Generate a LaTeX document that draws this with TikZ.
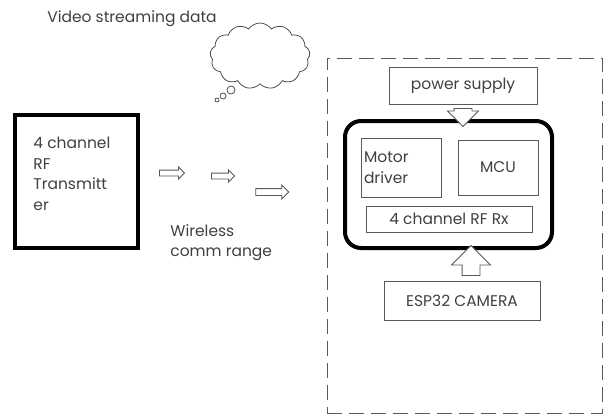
\documentclass[tikz,border=0pt]{standalone}
\usepackage{fontspec}
\setmainfont{Poppins}
\usetikzlibrary{shapes.symbols,shapes.arrows,positioning}

\begin{document}
\begin{tikzpicture}
[x=1pt, y=-1pt, line width=0.8pt,
txt/.style={text=black!75, font=\fontsize{15.5}{20.5}\selectfont},
box/.style={rectangle, draw=black!65, inner sep=2pt, txt},
thickbox/.style={rectangle, draw=black, line width=4pt},
blockarrow/.style={single arrow, draw=black!65, inner xsep=0pt, minimum width=0pt, fill=white}]

\useasboundingbox (0,0) rectangle (606,415);

% text above the cloud
\node[txt] (video) at (132,19) {Video streaming data};
\node[cloud, draw=black!70, cloud puffs=13, cloud puff arc=110, aspect=1.5,
  minimum width=100pt, minimum height=66pt] (cloud) at (260,56) {};
\node[circle, draw=black!70, minimum size=8pt, inner sep=0pt] (bub1) at (231,90) {};
\node[circle, draw=black!70, minimum size=6pt, inner sep=0pt] (bub2) at (223,96) {};
\node[circle, draw=black!70, minimum size=4pt, inner sep=0pt] (bub3) at (217,100) {};

% transmitter side
\node[thickbox, minimum width=123pt, minimum height=133pt] (tx) at (76.5,181.5) {};
\node[txt, align=left, anchor=north west, inner sep=0pt] (txlabel) at (33,137)
  {4 channel\\RF\\Transmitt\\er};

\node[blockarrow, minimum height=25pt, inner ysep=2.5pt, single arrow head extend=3pt] (wave1) at (170.5,173) {};
\node[blockarrow, minimum height=23pt, inner ysep=2.5pt, single arrow head extend=3pt] (wave2) at (221.5,176) {};
\node[blockarrow, minimum height=33pt, inner ysep=3pt, single arrow head extend=3.5pt] (wave3) at (270.5,192) {};
\node[txt, align=left, anchor=north west, inner sep=0pt] (range) at (170,224) {Wireless\\comm range};

% robot side
\node[rectangle, draw=black!65, dash pattern=on 15pt off 7pt, minimum width=275pt, minimum height=355pt] (frame) at (464.5,235.5) {};
\node[box, minimum width=148pt, minimum height=37pt] (power) at (463,85.5) {power supply};
\node[thickbox, rounded corners=16pt, minimum width=207pt, minimum height=127pt] (board) at (448.5,184.5) {};
\node[box, minimum width=80pt, minimum height=59pt, text width=74pt, align=left] (driver) at (401,167.5) {Motor\\driver};
\node[box, minimum width=80pt, minimum height=55pt] (mcu) at (498,167.5) {MCU};
\node[box, minimum width=166pt, minimum height=26pt] (rfrx) at (449,219) {4 channel RF Rx};
\node[box, minimum width=156pt, minimum height=39pt] (cam) at (462,300.5) {ESP32 CAMERA};

\node[blockarrow, rotate=-90, minimum height=18pt, inner ysep=8.5pt, single arrow head extend=6.5pt] (pwrarrow) at (463,113) {};
\node[blockarrow, rotate=90, minimum height=30pt, inner ysep=8.5pt, single arrow head extend=10.5pt] (camarrow) at (471,265) {};
\end{tikzpicture}
\end{document}
